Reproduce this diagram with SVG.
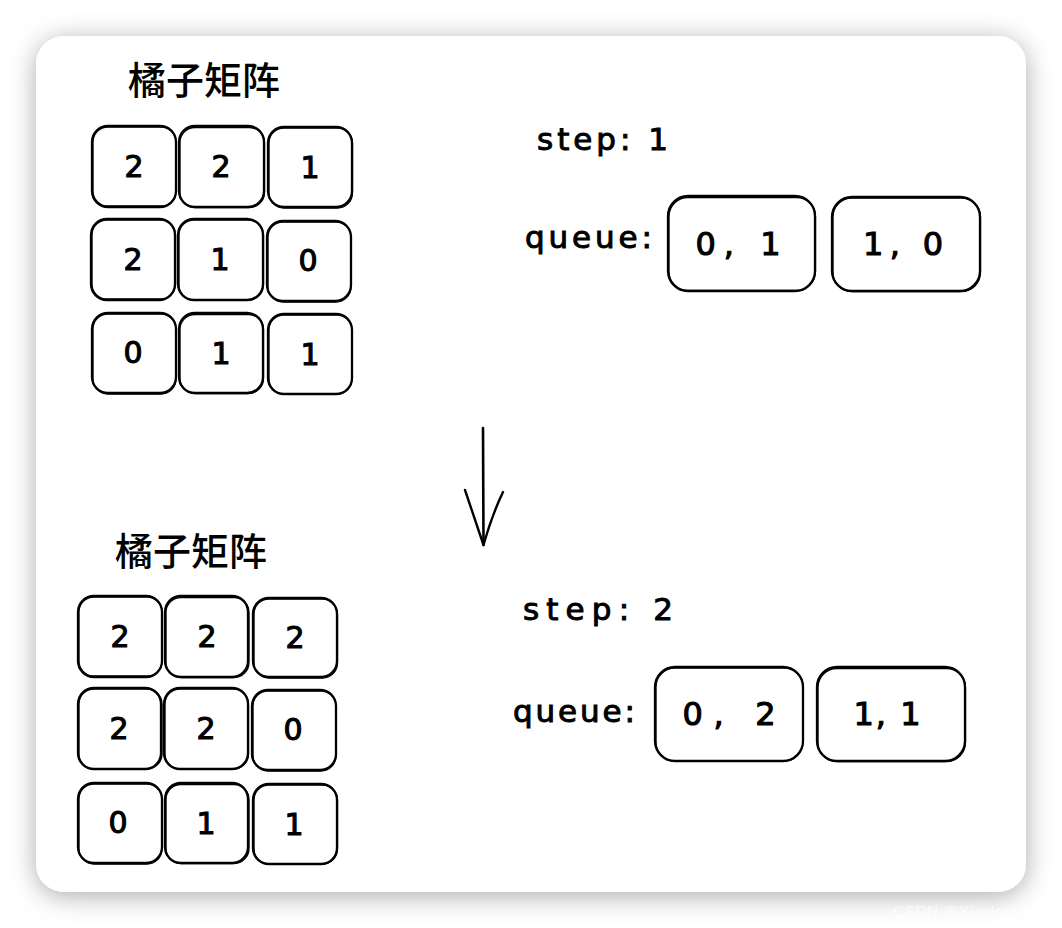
<svg xmlns="http://www.w3.org/2000/svg" width="1062" height="928" viewBox="0 0 1062 928">
<defs>
<filter id="sh" x="-10%" y="-10%" width="120%" height="125%">
<feDropShadow dx="0" dy="4" stdDeviation="13" flood-color="#000" flood-opacity="0.33"/>
</filter>
</defs>
<style>
.cell{fill:none;stroke:#000;stroke-width:2.3}
.cell2{fill:none;stroke:#000;stroke-width:1.3}
.num{font-family:"DejaVu Sans","Liberation Sans",sans-serif;font-size:30px;fill:#000;stroke:#000;stroke-width:1.1;text-anchor:middle}
.lbl{font-family:"DejaVu Sans","Liberation Sans",sans-serif;font-size:31px;fill:#000;stroke:#000;stroke-width:1}
.qn{font-family:"DejaVu Sans","Liberation Sans",sans-serif;font-size:32px;fill:#000;stroke:#000;stroke-width:1.1;text-anchor:middle}
.title{font-family:"Noto Sans CJK SC","Noto Sans CJK JP",sans-serif;font-size:38px;font-weight:500;fill:#000}
.wm{font-family:"Liberation Sans",Arial,sans-serif;font-size:16px;fill:#fff;fill-opacity:0.75}
</style>
<rect width="1062" height="928" fill="#fff"/>
<rect id="card" x="36" y="36" width="990" height="856" rx="28" fill="#fff" filter="url(#sh)"/>

<g id="title-top"><text class="title" x="128" y="94">橘子矩阵</text></g>
<g id="matrix-top">
<g id="t00"><rect class="cell" x="92" y="126" width="84" height="81" rx="16"/><rect class="cell2" x="93" y="127" width="83" height="79" rx="15"/><text class="num" x="134" y="177">2</text></g>
<g id="t01"><rect class="cell" x="179" y="126" width="85" height="81" rx="16"/><rect class="cell2" x="180" y="127.5" width="84.5" height="80" rx="15"/><text class="num" x="221" y="177">2</text></g>
<g id="t02"><rect class="cell" x="268" y="127" width="84" height="80" rx="16"/><rect class="cell2" x="269" y="128" width="83.5" height="80" rx="15"/><text class="num" x="310" y="178">1</text></g>
<g id="t10"><rect class="cell" x="91" y="219" width="84" height="81" rx="16"/><rect class="cell2" x="92" y="220" width="83.5" height="79" rx="15"/><text class="num" x="133" y="270">2</text></g>
<g id="t11"><rect class="cell" x="178" y="219" width="85" height="81" rx="16"/><rect class="cell2" x="179" y="220" width="84.5" height="80" rx="15"/><text class="num" x="220" y="270">1</text></g>
<g id="t12"><rect class="cell" x="267" y="221" width="84" height="80" rx="16"/><rect class="cell2" x="268" y="222" width="83" height="80" rx="15"/><text class="num" x="308" y="271">0</text></g>
<g id="t20"><rect class="cell" x="92" y="313" width="84" height="80" rx="16"/><rect class="cell2" x="93" y="314" width="83" height="80" rx="15"/><text class="num" x="133" y="363">0</text></g>
<g id="t21"><rect class="cell" x="179" y="313" width="84" height="80" rx="16"/><rect class="cell2" x="180" y="314.5" width="83.5" height="79" rx="15"/><text class="num" x="221" y="364">1</text></g>
<g id="t22"><rect class="cell" x="268" y="314" width="84" height="80" rx="16"/><rect class="cell2" x="269" y="315" width="83" height="79" rx="15"/><text class="num" x="310" y="365">1</text></g>
</g>

<g id="step-top"><text class="lbl" x="537" y="150" textLength="131" lengthAdjust="spacing">step: 1</text></g>
<g id="queue-label-top"><text class="lbl" x="525" y="248" textLength="127" lengthAdjust="spacing">queue:</text></g>
<g id="q-top-1"><rect class="cell" x="668" y="196" width="147" height="95" rx="20"/><rect class="cell2" x="669" y="197.5" width="146.5" height="93" rx="19"/><text class="qn" x="738" y="255" textLength="85" lengthAdjust="spacing">0, 1</text></g>
<g id="q-top-2"><rect class="cell" x="832" y="197" width="148" height="94" rx="20"/><rect class="cell2" x="833" y="198" width="147.5" height="93.5" rx="19"/><text class="qn" x="903" y="255" textLength="80" lengthAdjust="spacing">1, 0</text></g>

<g id="connectors">
<path d="M483 428 L483.5 545" fill="none" stroke="#000" stroke-width="2.6" stroke-linecap="round"/>
<path d="M465 490 Q475 520 483.5 545 Q492 515 503 492" fill="none" stroke="#000" stroke-width="2.4" stroke-linecap="round" stroke-linejoin="round"/>
</g>

<g id="title-bottom"><text class="title" x="115" y="565">橘子矩阵</text></g>
<g id="matrix-bottom">
<g id="b00"><rect class="cell" x="78" y="596" width="84" height="81" rx="16"/><rect class="cell2" x="79" y="597" width="83" height="79" rx="15"/><text class="num" x="120" y="647">2</text></g>
<g id="b01"><rect class="cell" x="165" y="596" width="83" height="81" rx="16"/><rect class="cell2" x="166" y="597.5" width="83" height="80" rx="15"/><text class="num" x="207" y="647">2</text></g>
<g id="b02"><rect class="cell" x="253" y="598" width="84" height="79" rx="16"/><rect class="cell2" x="254" y="599" width="83.5" height="79" rx="15"/><text class="num" x="295" y="648">2</text></g>
<g id="b10"><rect class="cell" x="78" y="688" width="83" height="81" rx="16"/><rect class="cell2" x="79" y="689" width="83" height="80" rx="15"/><text class="num" x="119" y="739">2</text></g>
<g id="b11"><rect class="cell" x="164" y="688" width="84" height="81" rx="16"/><rect class="cell2" x="165" y="689" width="83.5" height="80" rx="15"/><text class="num" x="206" y="739">2</text></g>
<g id="b12"><rect class="cell" x="252" y="690" width="84" height="80" rx="16"/><rect class="cell2" x="253" y="691" width="83" height="80" rx="15"/><text class="num" x="293" y="740">0</text></g>
<g id="b20"><rect class="cell" x="78" y="783" width="84" height="80" rx="16"/><rect class="cell2" x="79" y="784" width="83" height="80" rx="15"/><text class="num" x="118" y="833">0</text></g>
<g id="b21"><rect class="cell" x="165" y="783" width="83" height="80" rx="16"/><rect class="cell2" x="166" y="784.5" width="83" height="79" rx="15"/><text class="num" x="206" y="834">1</text></g>
<g id="b22"><rect class="cell" x="253" y="784" width="84" height="80" rx="16"/><rect class="cell2" x="254" y="785" width="83.5" height="79" rx="15"/><text class="num" x="294" y="835">1</text></g>
</g>

<g id="step-bottom"><text class="lbl" x="523" y="620" textLength="150" lengthAdjust="spacing">step: 2</text></g>
<g id="queue-label-bottom"><text class="lbl" x="513" y="722" textLength="122" lengthAdjust="spacing">queue:</text></g>
<g id="q-bot-1"><rect class="cell" x="655" y="667" width="148" height="94" rx="20"/><rect class="cell2" x="656" y="668" width="147" height="93" rx="19"/><text class="qn" x="729" y="725" textLength="93" lengthAdjust="spacing">0, 2</text></g>
<g id="q-bot-2"><rect class="cell" x="817" y="667" width="148" height="94" rx="20"/><rect class="cell2" x="818" y="668.5" width="147.5" height="93" rx="19"/><text class="qn" x="887" y="725" textLength="67" lengthAdjust="spacing">1, 1</text></g>

<text class="wm" x="893" y="918">CSDN @Xiaolock83</text>
</svg>
